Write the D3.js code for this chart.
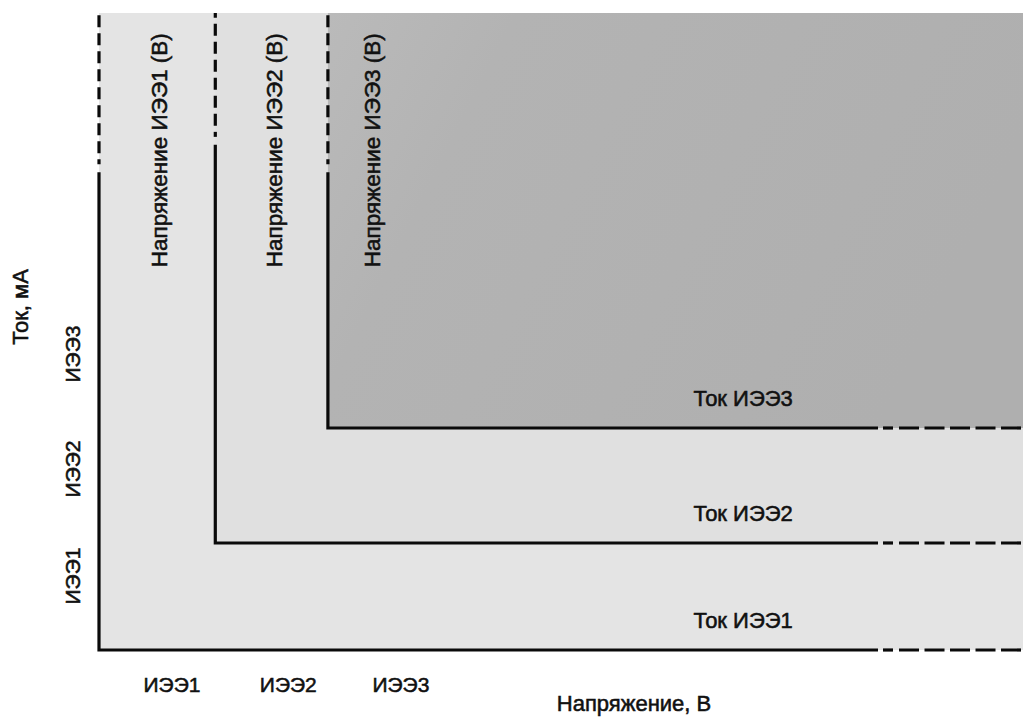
<!DOCTYPE html>
<html>
<head>
<meta charset="utf-8">
<script src="https://cdn.jsdelivr.net/npm/d3@7"></script>
<style>
  body { margin: 0; background: #fff; }
  text { font-family: "Liberation Sans", Arial, sans-serif; fill: #111; stroke: #111; stroke-width: 0.55px; }
</style>
</head>
<body>
<div id="chart"></div>
<script>
// Данные: пороги напряжения/тока для трёх ИЭЭ (условные единицы 0..100)
const devices = ["ИЭЭ1", "ИЭЭ2", "ИЭЭ3"];
const voltageLevels = [0, 12.6, 24.8];      // вертикальные границы
const currentLevels = [0, 16.8, 34.85];     // горизонтальные границы
const voltageSolidTop = [75.0, 79.3, 75.0]; // где вертикаль переходит в штрих
const currentSolidEnd = [84.4, 84.4, 84.4]; // где горизонталь переходит в штрих
const voltageLabels = ["Напряжение ИЭЭ1 (В)", "Напряжение ИЭЭ2 (В)", "Напряжение ИЭЭ3 (В)"];
const currentLabels = ["Ток ИЭЭ1", "Ток ИЭЭ2", "Ток ИЭЭ3"];
const labelVoltageStart = 60.1; // нижний край вертикальных подписей
const labelCurrentStart = 64.4; // левый край подписей "Ток ..."

class RegionChart {
  constructor(containerId) {
    this.width = 1023;
    this.height = 723;
    this.svg = d3.select(containerId).append("svg")
      .attr("width", this.width)
      .attr("height", this.height);

    this.x = d3.scaleLinear().domain([0, 100]).range([99, 1022]);
    this.y = d3.scaleLinear().domain([0, 100]).range([650, 13]);

    const defs = this.svg.append("defs");
    const grad = defs.append("linearGradient").attr("id", "darkFill")
      .attr("x1", "0%").attr("x2", "100%").attr("y1", "0%").attr("y2", "30%");
    grad.append("stop").attr("offset", "0%").attr("stop-color", "#bababa");
    grad.append("stop").attr("offset", "25%").attr("stop-color", "#b3b3b3");
    grad.append("stop").attr("offset", "100%").attr("stop-color", "#afafaf");

    this.fills = ["#e4e4e4", "#e0e0e0", "url(#darkFill)"];
    this.draw();
  }

  draw() {
    const x = this.x, y = this.y;
    const g = this.svg.append("g");
    const n = devices.length;

    // области
    g.selectAll(".region")
      .data(devices)
      .enter()
      .append("rect")
      .attr("class", "region")
      .attr("x", (d, i) => x(voltageLevels[i]))
      .attr("y", y(100))
      .attr("width", (d, i) => x(100) - x(voltageLevels[i]) + 1)
      .attr("height", (d, i) => y(currentLevels[i]) - y(100))
      .attr("fill", (d, i) => this.fills[i]);

    const lines = g.append("g")
      .attr("stroke", "#0a0a0a")
      .attr("stroke-width", 3.2)
      .attr("fill", "none");

    devices.forEach((d, i) => {
      const xv = x(voltageLevels[i]);
      const yc = y(currentLevels[i]);
      const yTop = y(voltageSolidTop[i]);
      const xEnd = x(currentSolidEnd[i]);

      // сплошная часть (уголок)
      lines.append("path")
        .attr("d", `M${xv},${yTop} L${xv},${yc} L${xEnd},${yc}`)
        .attr("stroke-linejoin", "miter");

      // штриховое продолжение вверх
      lines.append("path").attr("d", `M${xv},${yTop - 8} L${xv},${yTop - 13}`);
      lines.append("path")
        .attr("d", `M${xv},${yTop - 19} L${xv},${y(100)}`)
        .attr("stroke-dasharray", "12,6");

      // штриховое продолжение вправо
      lines.append("path").attr("d", `M${xEnd + 5},${yc} L${xEnd + 15},${yc}`);
      lines.append("path")
        .attr("d", `M${xEnd + 21},${yc} L${x(100)},${yc}`)
        .attr("stroke-dasharray", "20,5.5");
    });

    // подписи напряжения (вертикальные)
    g.selectAll(".vlabel")
      .data(voltageLabels)
      .enter()
      .append("text")
      .attr("class", "vlabel")
      .attr("transform", (d, i) => {
        const bx = i < n - 1
          ? (x(voltageLevels[i]) + x(voltageLevels[i + 1])) / 2 + 10
          : x(voltageLevels[i]) + 52;
        return `translate(${bx},${y(labelVoltageStart)}) rotate(-90)`;
      })
      .attr("font-size", "22.5px")
      .text(d => d);

    // подписи тока
    g.selectAll(".clabel")
      .data(currentLabels)
      .enter()
      .append("text")
      .attr("class", "clabel")
      .attr("x", x(labelCurrentStart))
      .attr("y", (d, i) => y(currentLevels[i]) - 22)
      .attr("font-size", "22px")
      .text(d => d);

    // метки по оси X
    g.selectAll(".xtick")
      .data(devices)
      .enter()
      .append("text")
      .attr("class", "xtick")
      .attr("x", (d, i) => x(voltageLevels[i]) + 73)
      .attr("y", 692)
      .attr("text-anchor", "middle")
      .attr("font-size", "21px")
      .text(d => d);

    // метки по оси Y
    g.selectAll(".ytick")
      .data(devices)
      .enter()
      .append("text")
      .attr("class", "ytick")
      .attr("transform", (d, i) => `translate(80,${y(currentLevels[i]) - 74}) rotate(-90)`)
      .attr("text-anchor", "middle")
      .attr("font-size", "21px")
      .text(d => d);

    // названия осей
    g.append("text")
      .attr("x", 634)
      .attr("y", 711)
      .attr("text-anchor", "middle")
      .attr("font-size", "22px")
      .text("Напряжение, В");

    g.append("text")
      .attr("transform", "translate(28,307) rotate(-90)")
      .attr("text-anchor", "middle")
      .attr("font-size", "22px")
      .text("Ток, мА");
  }
}

new RegionChart("#chart");
</script>
</body>
</html>
